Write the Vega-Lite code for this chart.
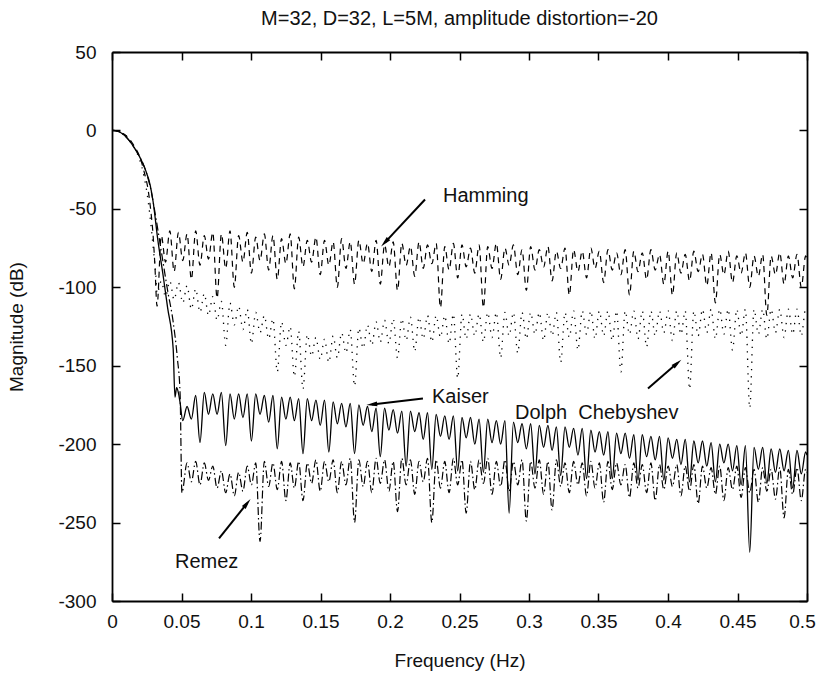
{
"$schema":"https://vega.github.io/schema/vega-lite/v6.json",
"width":695,"height":549,
"autosize":{"type":"none"},
"padding":{"left":112,"top":52,"right":12,"bottom":81},
"background":"white",
"title":{"text":"M=32, D=32, L=5M, amplitude distortion=-20","fontSize":20,"fontWeight":"normal","font":"Liberation Sans","color":"#111","offset":14,"anchor":"middle"},
"datasets":{
"kaiser":[{"f":0,"m":0},{"f":0.004,"m":-0.5},{"f":0.008,"m":-2.5},{"f":0.012,"m":-6},{"f":0.016,"m":-11},{"f":0.02,"m":-17},{"f":0.024,"m":-25},{"f":0.0275,"m":-35},{"f":0.0295,"m":-45},{"f":0.033,"m":-70},{"f":0.0367,"m":-92},{"f":0.04,"m":-113},{"f":0.044,"m":-139},{"f":0.0453,"m":-170},{"f":0.0465,"m":-164},{"f":0.0477,"m":-167},{"f":0.0489,"m":-173},
{"f":0.0509,"m":-185},{"f":0.054,"m":-176},{"f":0.0571,"m":-184},{"f":0.0602,"m":-169},{"f":0.0633,"m":-199},{"f":0.0664,"m":-167},{"f":0.0694,"m":-181},{"f":0.0725,"m":-168},{"f":0.0756,"m":-181},{"f":0.0787,"m":-167},{"f":0.0818,"m":-201},{"f":0.0849,"m":-168},{"f":0.088,"m":-184},{"f":0.0911,"m":-168},{"f":0.0942,"m":-183},{"f":0.0973,"m":-168},{"f":0.1003,"m":-198},{"f":0.1034,"m":-168},{"f":0.1065,"m":-181},{"f":0.1096,"m":-169},{"f":0.1127,"m":-186},{"f":0.1158,"m":-169},{"f":0.1189,"m":-203},{"f":0.122,"m":-170},{"f":0.1251,"m":-184},{"f":0.1282,"m":-170},{"f":0.1312,"m":-185},{"f":0.1343,"m":-171},{"f":0.1374,"m":-206},{"f":0.1405,"m":-171},{"f":0.1436,"m":-185},{"f":0.1467,"m":-172},{"f":0.1498,"m":-188},{"f":0.1529,"m":-172},{"f":0.156,"m":-205},{"f":0.1591,"m":-173},{"f":0.1621,"m":-187},{"f":0.1652,"m":-174},{"f":0.1683,"m":-189},{"f":0.1714,"m":-174},{"f":0.1745,"m":-206},{"f":0.1776,"m":-175},{"f":0.1807,"m":-188},{"f":0.1838,"m":-176},{"f":0.1869,"m":-192},{"f":0.19,"m":-177},{"f":0.193,"m":-208},{"f":0.1961,"m":-177},{"f":0.1992,"m":-191},{"f":0.2023,"m":-178},{"f":0.2054,"m":-193},{"f":0.2085,"m":-179},{"f":0.2116,"m":-214},{"f":0.2147,"m":-179},{"f":0.2178,"m":-192},{"f":0.2209,"m":-180},{"f":0.2239,"m":-197},{"f":0.227,"m":-180},{"f":0.2301,"m":-216},{"f":0.2332,"m":-181},{"f":0.2363,"m":-195},{"f":0.2394,"m":-182},{"f":0.2425,"m":-197},{"f":0.2456,"m":-182},{"f":0.2487,"m":-217},{"f":0.2518,"m":-183},{"f":0.2548,"m":-196},{"f":0.2579,"m":-183},{"f":0.261,"m":-200},{"f":0.2641,"m":-184},{"f":0.2672,"m":-218},{"f":0.2703,"m":-184},{"f":0.2734,"m":-199},{"f":0.2765,"m":-185},{"f":0.2796,"m":-200},{"f":0.2827,"m":-185},{"f":0.2857,"m":-244},{"f":0.2888,"m":-186},{"f":0.2919,"m":-199},{"f":0.295,"m":-187},{"f":0.2981,"m":-203},{"f":0.3012,"m":-187},{"f":0.3043,"m":-219},{"f":0.3074,"m":-188},{"f":0.3105,"m":-202},{"f":0.3136,"m":-188},{"f":0.3166,"m":-204},{"f":0.3197,"m":-189},{"f":0.3228,"m":-220},{"f":0.3259,"m":-189},{"f":0.329,"m":-202},{"f":0.3321,"m":-190},{"f":0.3352,"m":-207},{"f":0.3383,"m":-190},{"f":0.3414,"m":-222},{"f":0.3445,"m":-191},{"f":0.3475,"m":-205},{"f":0.3506,"m":-192},{"f":0.3537,"m":-207},{"f":0.3568,"m":-192},{"f":0.3599,"m":-222},{"f":0.363,"m":-193},{"f":0.3661,"m":-206},{"f":0.3692,"m":-193},{"f":0.3723,"m":-209},{"f":0.3754,"m":-194},{"f":0.3784,"m":-223},{"f":0.3815,"m":-194},{"f":0.3846,"m":-208},{"f":0.3877,"m":-195},{"f":0.3908,"m":-210},{"f":0.3939,"m":-195},{"f":0.397,"m":-223},{"f":0.4001,"m":-196},{"f":0.4032,"m":-209},{"f":0.4063,"m":-197},{"f":0.4093,"m":-213},{"f":0.4124,"m":-197},{"f":0.4155,"m":-224},{"f":0.4186,"m":-198},{"f":0.4217,"m":-212},{"f":0.4248,"m":-198},{"f":0.4279,"m":-214},{"f":0.431,"m":-199},{"f":0.4341,"m":-224},{"f":0.4372,"m":-200},{"f":0.4402,"m":-212},{"f":0.4433,"m":-200},{"f":0.4464,"m":-217},{"f":0.4495,"m":-201},{"f":0.4526,"m":-226},{"f":0.4557,"m":-201},{"f":0.4588,"m":-269},{"f":0.4619,"m":-202},{"f":0.465,"m":-216},{"f":0.4681,"m":-202},{"f":0.4711,"m":-225},{"f":0.4742,"m":-203},{"f":0.4773,"m":-218},{"f":0.4804,"m":-203},{"f":0.4835,"m":-217},{"f":0.4866,"m":-204},{"f":0.4897,"m":-228},{"f":0.4928,"m":-204},{"f":0.4959,"m":-219},{"f":0.499,"m":-205},{"f":0.5,"m":-207}],
"hamming":[{"f":0,"m":0},{"f":0.004,"m":-0.5},{"f":0.008,"m":-2},{"f":0.012,"m":-5},{"f":0.016,"m":-10},{"f":0.02,"m":-17},{"f":0.023,"m":-26},{"f":0.026,"m":-38},{"f":0.028,"m":-52},{"f":0.0295,"m":-66},{"f":0.0308,"m":-85},{"f":0.0324,"m":-112},
{"f":0.0355,"m":-67},{"f":0.0385,"m":-84},{"f":0.0416,"m":-64},{"f":0.0447,"m":-90},{"f":0.0478,"m":-65},{"f":0.0509,"m":-83},{"f":0.054,"m":-66},{"f":0.0571,"m":-95},{"f":0.0602,"m":-64},{"f":0.0633,"m":-86},{"f":0.0664,"m":-67},{"f":0.0694,"m":-82},{"f":0.0725,"m":-65},{"f":0.0756,"m":-107},{"f":0.0787,"m":-66},{"f":0.0818,"m":-88},{"f":0.0849,"m":-64},{"f":0.088,"m":-100},{"f":0.0911,"m":-67},{"f":0.0942,"m":-84},{"f":0.0973,"m":-65},{"f":0.1003,"m":-91},{"f":0.1034,"m":-68},{"f":0.1065,"m":-83},{"f":0.1096,"m":-66},{"f":0.1127,"m":-89},{"f":0.1158,"m":-67},{"f":0.1189,"m":-95},{"f":0.122,"m":-69},{"f":0.1251,"m":-85},{"f":0.1282,"m":-66},{"f":0.1312,"m":-101},{"f":0.1343,"m":-68},{"f":0.1374,"m":-87},{"f":0.1405,"m":-70},{"f":0.1436,"m":-84},{"f":0.1467,"m":-68},{"f":0.1498,"m":-92},{"f":0.1529,"m":-70},{"f":0.156,"m":-86},{"f":0.1591,"m":-71},{"f":0.1621,"m":-100},{"f":0.1652,"m":-69},{"f":0.1683,"m":-88},{"f":0.1714,"m":-71},{"f":0.1745,"m":-98},{"f":0.1776,"m":-70},{"f":0.1807,"m":-85},{"f":0.1838,"m":-72},{"f":0.1869,"m":-90},{"f":0.19,"m":-70},{"f":0.193,"m":-98},{"f":0.1961,"m":-73},{"f":0.1992,"m":-87},{"f":0.2023,"m":-71},{"f":0.2054,"m":-102},{"f":0.2085,"m":-72},{"f":0.2116,"m":-86},{"f":0.2147,"m":-74},{"f":0.2178,"m":-93},{"f":0.2209,"m":-71},{"f":0.2239,"m":-88},{"f":0.227,"m":-73},{"f":0.2301,"m":-85},{"f":0.2332,"m":-72},{"f":0.2363,"m":-113},{"f":0.2394,"m":-74},{"f":0.2425,"m":-89},{"f":0.2456,"m":-72},{"f":0.2487,"m":-94},{"f":0.2518,"m":-73},{"f":0.2548,"m":-87},{"f":0.2579,"m":-75},{"f":0.261,"m":-91},{"f":0.2641,"m":-73},{"f":0.2672,"m":-113},{"f":0.2703,"m":-74},{"f":0.2734,"m":-88},{"f":0.2765,"m":-72},{"f":0.2796,"m":-95},{"f":0.2827,"m":-75},{"f":0.2857,"m":-86},{"f":0.2888,"m":-73},{"f":0.2919,"m":-92},{"f":0.295,"m":-76},{"f":0.2981,"m":-102},{"f":0.3012,"m":-74},{"f":0.3043,"m":-89},{"f":0.3074,"m":-76},{"f":0.3105,"m":-87},{"f":0.3136,"m":-74},{"f":0.3166,"m":-96},{"f":0.3197,"m":-77},{"f":0.3228,"m":-88},{"f":0.3259,"m":-75},{"f":0.329,"m":-105},{"f":0.3321,"m":-76},{"f":0.3352,"m":-90},{"f":0.3383,"m":-77},{"f":0.3414,"m":-94},{"f":0.3445,"m":-75},{"f":0.3475,"m":-88},{"f":0.3506,"m":-77},{"f":0.3537,"m":-97},{"f":0.3568,"m":-76},{"f":0.3599,"m":-89},{"f":0.363,"m":-78},{"f":0.3661,"m":-92},{"f":0.3692,"m":-76},{"f":0.3723,"m":-105},{"f":0.3754,"m":-77},{"f":0.3784,"m":-90},{"f":0.3815,"m":-78},{"f":0.3846,"m":-95},{"f":0.3877,"m":-76},{"f":0.3908,"m":-89},{"f":0.3939,"m":-79},{"f":0.397,"m":-98},{"f":0.4001,"m":-77},{"f":0.4032,"m":-105},{"f":0.4063,"m":-78},{"f":0.4093,"m":-91},{"f":0.4124,"m":-79},{"f":0.4155,"m":-96},{"f":0.4186,"m":-77},{"f":0.4217,"m":-90},{"f":0.4248,"m":-79},{"f":0.4279,"m":-99},{"f":0.431,"m":-78},{"f":0.4341,"m":-110},{"f":0.4372,"m":-79},{"f":0.4402,"m":-92},{"f":0.4433,"m":-77},{"f":0.4464,"m":-97},{"f":0.4495,"m":-80},{"f":0.4526,"m":-91},{"f":0.4557,"m":-78},{"f":0.4588,"m":-100},{"f":0.4619,"m":-80},{"f":0.465,"m":-93},{"f":0.4681,"m":-79},{"f":0.4711,"m":-118},{"f":0.4742,"m":-80},{"f":0.4773,"m":-92},{"f":0.4804,"m":-78},{"f":0.4835,"m":-98},{"f":0.4866,"m":-80},{"f":0.4897,"m":-94},{"f":0.4928,"m":-79},{"f":0.4959,"m":-100},{"f":0.499,"m":-80},{"f":0.5,"m":-82}],
"dolph":[{"f":0,"m":0},{"f":0.004,"m":-0.4},{"f":0.008,"m":-2},{"f":0.012,"m":-5},{"f":0.016,"m":-11},{"f":0.02,"m":-19},{"f":0.023,"m":-29},{"f":0.026,"m":-45},{"f":0.028,"m":-60},{"f":0.03,"m":-78},{"f":0.0315,"m":-92},
{"f":0.0324,"m":-104},{"f":0.0355,"m":-96},{"f":0.0385,"m":-106},{"f":0.0416,"m":-96},{"f":0.0447,"m":-108},{"f":0.0478,"m":-97},{"f":0.0509,"m":-110},{"f":0.054,"m":-99},{"f":0.0571,"m":-114},{"f":0.0602,"m":-101},{"f":0.0633,"m":-116},{"f":0.0664,"m":-104},{"f":0.0694,"m":-118},{"f":0.0725,"m":-106},{"f":0.0756,"m":-121},{"f":0.0787,"m":-109},{"f":0.0818,"m":-137},{"f":0.0849,"m":-110},{"f":0.088,"m":-124},{"f":0.0911,"m":-112},{"f":0.0942,"m":-127},{"f":0.0973,"m":-114},{"f":0.1003,"m":-136},{"f":0.1034,"m":-116},{"f":0.1065,"m":-129},{"f":0.1096,"m":-118},{"f":0.1127,"m":-133},{"f":0.1158,"m":-120},{"f":0.1189,"m":-154},{"f":0.122,"m":-122},{"f":0.1251,"m":-137},{"f":0.1282,"m":-125},{"f":0.1312,"m":-157},{"f":0.1343,"m":-128},{"f":0.1374,"m":-165},{"f":0.1405,"m":-130},{"f":0.1436,"m":-144},{"f":0.1467,"m":-132},{"f":0.1498,"m":-146},{"f":0.1529,"m":-133},{"f":0.156,"m":-148},{"f":0.1591,"m":-131},{"f":0.1621,"m":-145},{"f":0.1652,"m":-129},{"f":0.1683,"m":-142},{"f":0.1714,"m":-127},{"f":0.1745,"m":-163},{"f":0.1776,"m":-126},{"f":0.1807,"m":-139},{"f":0.1838,"m":-124},{"f":0.1869,"m":-137},{"f":0.19,"m":-122},{"f":0.193,"m":-135},{"f":0.1961,"m":-121},{"f":0.1992,"m":-136},{"f":0.2023,"m":-120},{"f":0.2054,"m":-145},{"f":0.2085,"m":-120},{"f":0.2116,"m":-134},{"f":0.2147,"m":-119},{"f":0.2178,"m":-141},{"f":0.2209,"m":-119},{"f":0.2239,"m":-133},{"f":0.227,"m":-118},{"f":0.2301,"m":-135},{"f":0.2332,"m":-118},{"f":0.2363,"m":-132},{"f":0.2394,"m":-118},{"f":0.2425,"m":-136},{"f":0.2456,"m":-117},{"f":0.2487,"m":-158},{"f":0.2518,"m":-117},{"f":0.2548,"m":-133},{"f":0.2579,"m":-117},{"f":0.261,"m":-131},{"f":0.2641,"m":-117},{"f":0.2672,"m":-135},{"f":0.2703,"m":-116},{"f":0.2734,"m":-132},{"f":0.2765,"m":-116},{"f":0.2796,"m":-145},{"f":0.2827,"m":-116},{"f":0.2857,"m":-131},{"f":0.2888,"m":-116},{"f":0.2919,"m":-142},{"f":0.295,"m":-116},{"f":0.2981,"m":-133},{"f":0.3012,"m":-116},{"f":0.3043,"m":-130},{"f":0.3074,"m":-116},{"f":0.3105,"m":-134},{"f":0.3136,"m":-116},{"f":0.3166,"m":-131},{"f":0.3197,"m":-116},{"f":0.3228,"m":-148},{"f":0.3259,"m":-116},{"f":0.329,"m":-132},{"f":0.3321,"m":-115},{"f":0.3352,"m":-140},{"f":0.3383,"m":-115},{"f":0.3414,"m":-130},{"f":0.3445,"m":-115},{"f":0.3475,"m":-133},{"f":0.3506,"m":-115},{"f":0.3537,"m":-131},{"f":0.3568,"m":-115},{"f":0.3599,"m":-134},{"f":0.363,"m":-115},{"f":0.3661,"m":-154},{"f":0.3692,"m":-115},{"f":0.3723,"m":-130},{"f":0.3754,"m":-115},{"f":0.3784,"m":-133},{"f":0.3815,"m":-115},{"f":0.3846,"m":-138},{"f":0.3877,"m":-115},{"f":0.3908,"m":-131},{"f":0.3939,"m":-115},{"f":0.397,"m":-129},{"f":0.4001,"m":-115},{"f":0.4032,"m":-134},{"f":0.4063,"m":-115},{"f":0.4093,"m":-130},{"f":0.4124,"m":-115},{"f":0.4155,"m":-165},{"f":0.4186,"m":-115},{"f":0.4217,"m":-131},{"f":0.4248,"m":-114},{"f":0.4279,"m":-129},{"f":0.431,"m":-114},{"f":0.4341,"m":-133},{"f":0.4372,"m":-114},{"f":0.4402,"m":-130},{"f":0.4433,"m":-114},{"f":0.4464,"m":-140},{"f":0.4495,"m":-114},{"f":0.4526,"m":-131},{"f":0.4557,"m":-114},{"f":0.4588,"m":-177},{"f":0.4619,"m":-114},{"f":0.465,"m":-130},{"f":0.4681,"m":-114},{"f":0.4711,"m":-133},{"f":0.4742,"m":-114},{"f":0.4773,"m":-129},{"f":0.4804,"m":-114},{"f":0.4835,"m":-132},{"f":0.4866,"m":-114},{"f":0.4897,"m":-130},{"f":0.4928,"m":-114},{"f":0.4959,"m":-131},{"f":0.499,"m":-114},{"f":0.5,"m":-116}],
"remez":[{"f":0,"m":0},{"f":0.004,"m":-0.5},{"f":0.008,"m":-2.5},{"f":0.012,"m":-6},{"f":0.016,"m":-11},{"f":0.02,"m":-17},{"f":0.024,"m":-25},{"f":0.028,"m":-38},{"f":0.032,"m":-58},{"f":0.036,"m":-80},{"f":0.04,"m":-102},{"f":0.044,"m":-122},{"f":0.047,"m":-145},{"f":0.049,"m":-168},{"f":0.0503,"m":-231},
{"f":0.054,"m":-212},{"f":0.0571,"m":-224},{"f":0.0602,"m":-211},{"f":0.0633,"m":-226},{"f":0.0664,"m":-212},{"f":0.0694,"m":-223},{"f":0.0725,"m":-214},{"f":0.0756,"m":-228},{"f":0.0787,"m":-217},{"f":0.0818,"m":-231},{"f":0.0849,"m":-219},{"f":0.088,"m":-233},{"f":0.0911,"m":-218},{"f":0.0942,"m":-230},{"f":0.0973,"m":-214},{"f":0.1003,"m":-226},{"f":0.1034,"m":-212},{"f":0.1065,"m":-262},{"f":0.1096,"m":-211},{"f":0.1127,"m":-227},{"f":0.1158,"m":-212},{"f":0.1189,"m":-229},{"f":0.122,"m":-211},{"f":0.1251,"m":-236},{"f":0.1282,"m":-212},{"f":0.1312,"m":-228},{"f":0.1343,"m":-211},{"f":0.1374,"m":-236},{"f":0.1405,"m":-212},{"f":0.1436,"m":-225},{"f":0.1467,"m":-210},{"f":0.1498,"m":-230},{"f":0.1529,"m":-211},{"f":0.156,"m":-224},{"f":0.1591,"m":-210},{"f":0.1621,"m":-231},{"f":0.1652,"m":-211},{"f":0.1683,"m":-226},{"f":0.1714,"m":-209},{"f":0.1745,"m":-250},{"f":0.1776,"m":-210},{"f":0.1807,"m":-227},{"f":0.1838,"m":-211},{"f":0.1869,"m":-231},{"f":0.19,"m":-209},{"f":0.193,"m":-225},{"f":0.1961,"m":-210},{"f":0.1992,"m":-230},{"f":0.2023,"m":-211},{"f":0.2054,"m":-243},{"f":0.2085,"m":-209},{"f":0.2116,"m":-226},{"f":0.2147,"m":-210},{"f":0.2178,"m":-232},{"f":0.2209,"m":-211},{"f":0.2239,"m":-224},{"f":0.227,"m":-209},{"f":0.2301,"m":-250},{"f":0.2332,"m":-210},{"f":0.2363,"m":-228},{"f":0.2394,"m":-211},{"f":0.2425,"m":-231},{"f":0.2456,"m":-209},{"f":0.2487,"m":-226},{"f":0.2518,"m":-210},{"f":0.2548,"m":-244},{"f":0.2579,"m":-211},{"f":0.261,"m":-229},{"f":0.2641,"m":-210},{"f":0.2672,"m":-225},{"f":0.2703,"m":-209},{"f":0.2734,"m":-232},{"f":0.2765,"m":-211},{"f":0.2796,"m":-227},{"f":0.2827,"m":-210},{"f":0.2857,"m":-230},{"f":0.2888,"m":-211},{"f":0.2919,"m":-226},{"f":0.295,"m":-210},{"f":0.2981,"m":-249},{"f":0.3012,"m":-211},{"f":0.3043,"m":-228},{"f":0.3074,"m":-210},{"f":0.3105,"m":-232},{"f":0.3136,"m":-211},{"f":0.3166,"m":-242},{"f":0.3197,"m":-210},{"f":0.3228,"m":-227},{"f":0.3259,"m":-212},{"f":0.329,"m":-231},{"f":0.3321,"m":-211},{"f":0.3352,"m":-226},{"f":0.3383,"m":-212},{"f":0.3414,"m":-233},{"f":0.3445,"m":-211},{"f":0.3475,"m":-228},{"f":0.3506,"m":-212},{"f":0.3537,"m":-237},{"f":0.3568,"m":-211},{"f":0.3599,"m":-229},{"f":0.363,"m":-212},{"f":0.3661,"m":-226},{"f":0.3692,"m":-213},{"f":0.3723,"m":-234},{"f":0.3754,"m":-212},{"f":0.3784,"m":-228},{"f":0.3815,"m":-213},{"f":0.3846,"m":-231},{"f":0.3877,"m":-212},{"f":0.3908,"m":-236},{"f":0.3939,"m":-213},{"f":0.397,"m":-229},{"f":0.4001,"m":-214},{"f":0.4032,"m":-227},{"f":0.4063,"m":-213},{"f":0.4093,"m":-233},{"f":0.4124,"m":-214},{"f":0.4155,"m":-230},{"f":0.4186,"m":-213},{"f":0.4217,"m":-238},{"f":0.4248,"m":-214},{"f":0.4279,"m":-228},{"f":0.431,"m":-215},{"f":0.4341,"m":-232},{"f":0.4372,"m":-214},{"f":0.4402,"m":-236},{"f":0.4433,"m":-215},{"f":0.4464,"m":-229},{"f":0.4495,"m":-214},{"f":0.4526,"m":-234},{"f":0.4557,"m":-215},{"f":0.4588,"m":-231},{"f":0.4619,"m":-216},{"f":0.465,"m":-237},{"f":0.4681,"m":-215},{"f":0.4711,"m":-230},{"f":0.4742,"m":-216},{"f":0.4773,"m":-235},{"f":0.4804,"m":-215},{"f":0.4835,"m":-247},{"f":0.4866,"m":-216},{"f":0.4897,"m":-232},{"f":0.4928,"m":-215},{"f":0.4959,"m":-236},{"f":0.499,"m":-216},{"f":0.5,"m":-218}],
"notes":[{"label":"Hamming","tf":0.2381,"tm":-42.1,"af":0.2252,"am":-44,"hf":0.1964,"hm":-71.4},{"label":"Kaiser","tf":0.2302,"tm":-170.2,"af":0.2237,"am":-170.9,"hf":0.1871,"hm":-174.7},{"label":"Dolph\u00a0 Chebyshev","tf":0.2899,"tm":-180.4,"af":0.3856,"am":-164.5,"hf":0.4065,"hm":-148.5},{"label":"Remez","tf":0.0453,"tm":-275.4,"af":0.077,"am":-260.1,"hf":0.0971,"hm":-237.8}]
},
"resolve":{"axis":{"x":"independent","y":"independent"}},
"layer":[
{"data":{"name":"kaiser"},"mark":{"type":"line","color":"#000","strokeWidth":1.3,"interpolate":"monotone"},
 "encoding":{
  "x":{"field":"f","type":"quantitative","scale":{"domain":[0,0.5],"nice":false,"zero":false},
   "axis":{"orient":"bottom","values":[0,0.05,0.1,0.15,0.2,0.25,0.3,0.35,0.4,0.45,0.5],"labelExpr":"''+datum.value","title":"Frequency (Hz)","labelPadding":19,"titlePadding":20,"labelFlush":false,"labelOverlap":false,"labelOffset":{"condition":{"test":"datum.value==0.5","value":-5},"value":0}}},
  "y":{"field":"m","type":"quantitative","scale":{"domain":[-300,50],"nice":false,"zero":false},
   "axis":{"orient":"left","values":[-300,-250,-200,-150,-100,-50,0,50],"labelExpr":"''+datum.value","title":"Magnitude (dB)","labelPadding":24,"titlePadding":31,"labelOverlap":false}}}},
{"data":{"name":"hamming"},"mark":{"type":"line","color":"#000","strokeWidth":1.2,"strokeDash":[6,5],"interpolate":"monotone"},
 "encoding":{
  "x":{"field":"f","type":"quantitative","scale":{"domain":[0,0.5],"nice":false,"zero":false},
   "axis":{"orient":"top","values":[0,0.05,0.1,0.15,0.2,0.25,0.3,0.35,0.4,0.45,0.5],"labels":false,"title":null}},
  "y":{"field":"m","type":"quantitative","scale":{"domain":[-300,50],"nice":false,"zero":false},
   "axis":{"orient":"right","values":[-300,-250,-200,-150,-100,-50,0,50],"labels":false,"title":null}}}},
{"data":{"name":"dolph"},"mark":{"type":"line","color":"#000","strokeWidth":1.3,"strokeDash":[1.3,6],"interpolate":"monotone"},
 "encoding":{
  "x":{"field":"f","type":"quantitative","scale":{"domain":[0,0.5],"nice":false,"zero":false},"axis":null},
  "y":{"field":"m","type":"quantitative","scale":{"domain":[-300,50],"nice":false,"zero":false},"axis":null}}},
{"data":{"name":"remez"},"mark":{"type":"line","color":"#000","strokeWidth":1.2,"strokeDash":[8,3,1.5,3],"interpolate":"monotone"},
 "encoding":{
  "x":{"field":"f","type":"quantitative","scale":{"domain":[0,0.5],"nice":false,"zero":false},"axis":null},
  "y":{"field":"m","type":"quantitative","scale":{"domain":[-300,50],"nice":false,"zero":false},"axis":null}}},
{"data":{"name":"notes"},"mark":{"type":"rule","color":"#000","strokeWidth":2},
 "encoding":{
  "x":{"field":"af","type":"quantitative","scale":{"domain":[0,0.5],"nice":false,"zero":false},"axis":null},
  "y":{"field":"am","type":"quantitative","scale":{"domain":[-300,50],"nice":false,"zero":false},"axis":null},
  "x2":{"field":"hf"},"y2":{"field":"hm"}}},
{"data":{"name":"notes"},"mark":{"type":"text","color":"#111","fontSize":20,"font":"Liberation Sans","align":"left","baseline":"middle"},
 "encoding":{
  "x":{"field":"tf","type":"quantitative","scale":{"domain":[0,0.5],"nice":false,"zero":false},"axis":null},
  "y":{"field":"tm","type":"quantitative","scale":{"domain":[-300,50],"nice":false,"zero":false},"axis":null},
  "text":{"field":"label"}}},
{"data":{"name":"notes"},"transform":[{"filter":"datum.label=='Hamming'"}],"mark":{"type":"point","shape":"M0,-1L0.42,0.9L-0.42,0.9Z","filled":true,"color":"#000","opacity":1,"size":130,"angle":222.9},
 "encoding":{"x":{"field":"hf","type":"quantitative","scale":{"domain":[0,0.5],"nice":false,"zero":false},"axis":null},"y":{"field":"hm","type":"quantitative","scale":{"domain":[-300,50],"nice":false,"zero":false},"axis":null}}},
{"data":{"name":"notes"},"transform":[{"filter":"datum.label=='Kaiser'"}],"mark":{"type":"point","shape":"M0,-1L0.42,0.9L-0.42,0.9Z","filled":true,"color":"#000","opacity":1,"size":130,"angle":263.3},
 "encoding":{"x":{"field":"hf","type":"quantitative","scale":{"domain":[0,0.5],"nice":false,"zero":false},"axis":null},"y":{"field":"hm","type":"quantitative","scale":{"domain":[-300,50],"nice":false,"zero":false},"axis":null}}},
{"data":{"name":"notes"},"transform":[{"filter":"indexof(datum.label,'Dolph')==0"}],"mark":{"type":"point","shape":"M0,-1L0.42,0.9L-0.42,0.9Z","filled":true,"color":"#000","opacity":1,"size":130,"angle":49.2},
 "encoding":{"x":{"field":"hf","type":"quantitative","scale":{"domain":[0,0.5],"nice":false,"zero":false},"axis":null},"y":{"field":"hm","type":"quantitative","scale":{"domain":[-300,50],"nice":false,"zero":false},"axis":null}}},
{"data":{"name":"notes"},"transform":[{"filter":"datum.label=='Remez'"}],"mark":{"type":"point","shape":"M0,-1L0.42,0.9L-0.42,0.9Z","filled":true,"color":"#000","opacity":1,"size":130,"angle":38.7},
 "encoding":{"x":{"field":"hf","type":"quantitative","scale":{"domain":[0,0.5],"nice":false,"zero":false},"axis":null},"y":{"field":"hm","type":"quantitative","scale":{"domain":[-300,50],"nice":false,"zero":false},"axis":null}}}
],
"config":{
 "view":{"stroke":null},
 "axis":{"domainColor":"#000","domainWidth":1.8,"tickColor":"#000","tickWidth":1.5,"tickSize":-8,"grid":false,"labelFont":"Liberation Sans","labelFontSize":19,"labelColor":"#111","titleFont":"Liberation Sans","titleFontSize":19,"titleColor":"#111","titleFontWeight":"normal"}
}
}
